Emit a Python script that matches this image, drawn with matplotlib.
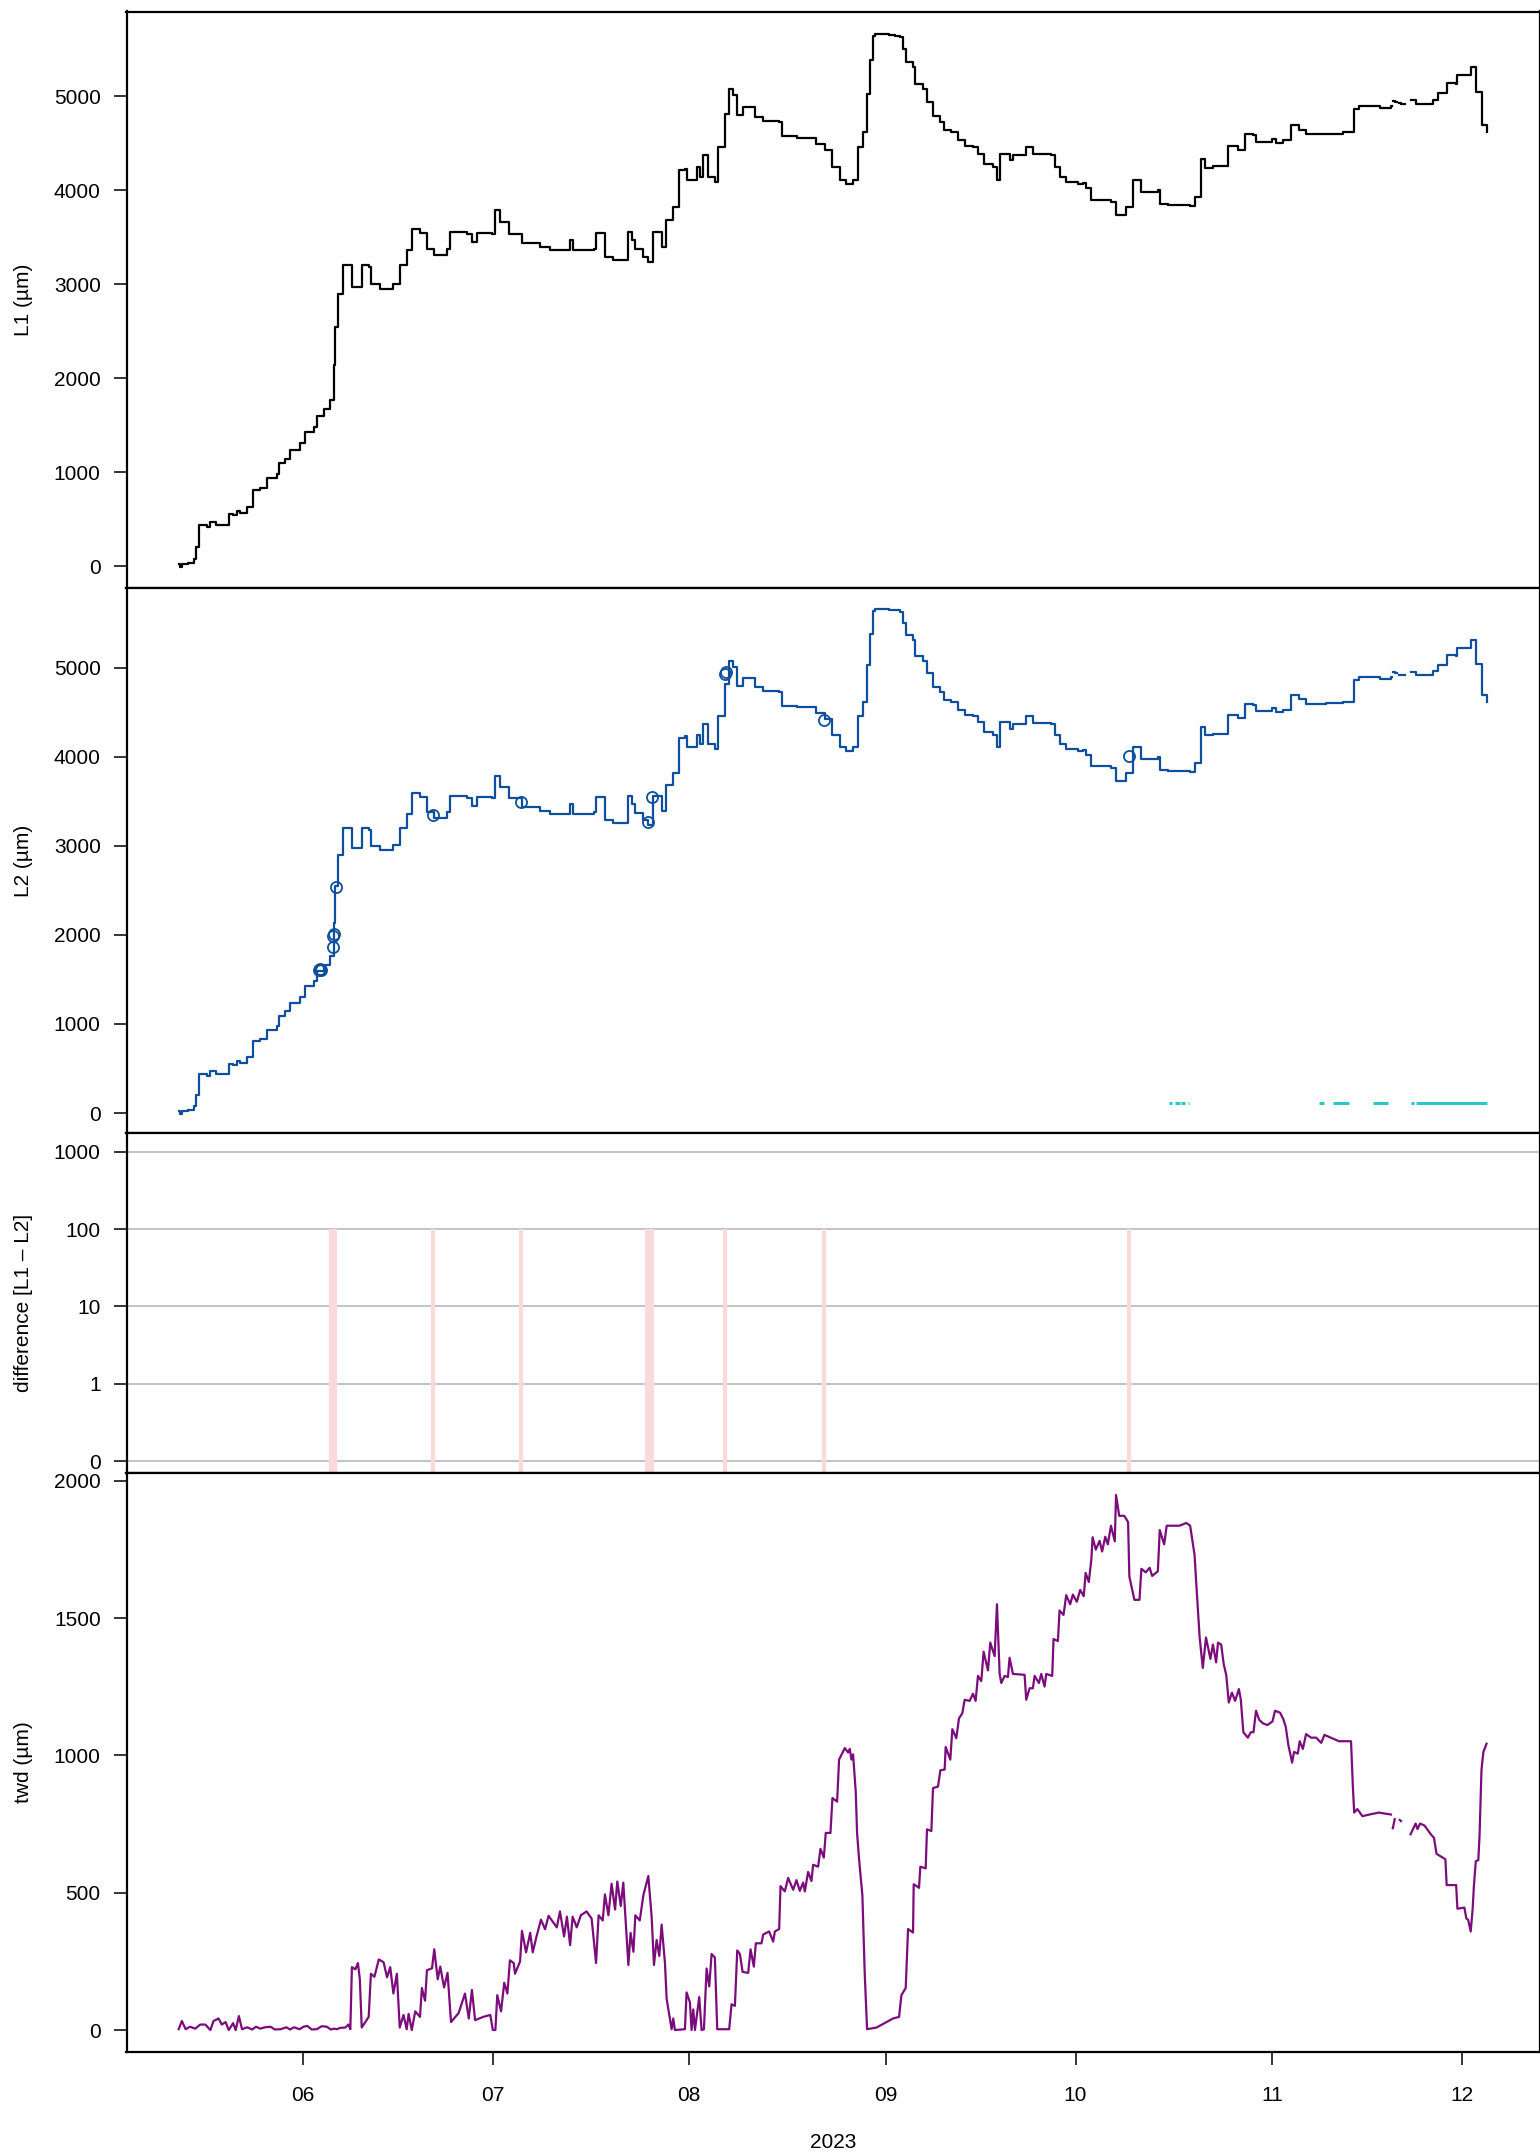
import numpy as np
import matplotlib.pyplot as plt

plt.rcParams['font.family'] = ['Liberation Sans', 'DejaVu Sans']

nan = np.nan

# (day of year 2023, 0 = 1 Jan ; value in µm)
l1_pts = [
    (131.4, 21), (131.6, -14), (132.0, 20), (132.8, 35), (133.8, 74), (134.2, 205), (134.6, 436),
    (135.9, 418), (136.4, 468), (137.3, 440), (138.8, 436), (139.3, 553), (140.0, 540), (140.6, 589),
    (141.1, 563), (142.2, 631), (143.2, 808), (144.3, 829), (145.4, 936), (146.9, 979), (147.3, 1092),
    (148.2, 1145), (149.0, 1234), (150.6, 1305), (151.4, 1429), (152.7, 1482), (153.2, 1596),
    (154.3, 1667), (155.3, 1766), (155.6, 1766), (155.9, 2138), (156.1, 2546), (156.6, 2901),
    (157.3, 3202), (158.5, 3202), (158.8, 2972), (159.8, 2972), (160.3, 3202), (161.4, 3184),
    (161.8, 3000), (163.2, 2954), (165.3, 3007), (166.3, 3202), (167.4, 3362), (168.2, 3592),
    (169.5, 3546), (170.6, 3380), (171.7, 3309), (173.7, 3380), (174.3, 3557), (176.9, 3540),
    (177.7, 3450), (178.5, 3546), (180.8, 3540), (181.4, 3787), (182.2, 3663), (183.6, 3540),
    (185.6, 3440), (188.5, 3397), (190.0, 3362), (193.2, 3468), (193.7, 3362), (196.9, 3380),
    (197.3, 3546), (198.7, 3291), (200.0, 3255), (201.6, 3255), (202.4, 3557), (203.0, 3468),
    (203.4, 3370), (204.7, 3291), (205.5, 3238), (206.3, 3557), (207.7, 3397), (208.4, 3681),
    (209.5, 3823), (210.4, 4213), (211.3, 4230), (211.6, 4106), (213.2, 4248), (213.7, 4142),
    (214.2, 4372), (215.0, 4142), (216.1, 4088), (216.6, 4461), (217.6, 4816), (218.3, 5082),
    (218.9, 5011), (219.6, 4798), (220.5, 4886), (221.3, 4886), (222.4, 4780), (223.7, 4737),
    (225.3, 4737), (226.2, 4727), (226.6, 4574), (229.0, 4560), (230.0, 4560), (232.1, 4497),
    (233.4, 4426), (234.5, 4248), (235.3, 4248), (235.8, 4106), (236.8, 4064), (237.9, 4106),
    (238.7, 4461), (239.5, 4620), (240.0, 5029), (240.6, 5384), (241.0, 5640), (241.3, 5665),
    (242.5, 5660), (243.5, 5650), (244.5, 5645), (245.3, 5630), (245.8, 5500), (246.3, 5365),
    (247.3, 5312), (247.6, 5135), (248.4, 5135), (248.9, 5082), (249.5, 4940), (250.2, 4940),
    (250.5, 4787), (251.6, 4727), (252.3, 4638), (253.4, 4620), (254.4, 4532), (255.5, 4468),
    (256.8, 4461), (257.6, 4390), (258.6, 4284), (259.9, 4248), (260.6, 4113), (261.0, 4390),
    (262.6, 4319), (263.1, 4372), (264.9, 4372), (265.2, 4461), (266.3, 4383), (269.2, 4372),
    (269.7, 4248), (270.5, 4142), (271.5, 4088), (273.4, 4071), (274.2, 4078), (274.6, 4020),
    (275.5, 3894), (278.6, 3876), (279.4, 3734), (281.0, 3823), (282.0, 4106), (283.1, 4106),
    (283.4, 3982), (286.0, 4000), (286.3, 3851), (287.6, 3840), (291.0, 3833), (291.8, 3929),
    (292.8, 4337), (293.4, 4241), (294.7, 4255), (296.0, 4255), (297.1, 4468), (298.6, 4433),
    (299.7, 4596), (301.0, 4585), (301.5, 4514), (304.1, 4550), (304.7, 4503), (305.7, 4532),
    (307.0, 4691), (308.3, 4645), (309.4, 4596), (312.5, 4603), (315.2, 4620), (316.5, 4620),
    (317.0, 4869), (317.8, 4894), (321.0, 4880), (322.8, 4894), (323.0, nan), (323.2, 4950),
    (323.5, 4940), (323.8, nan), (324.1, 4925), (324.4, 4922), (325.0, nan), (325.9, 4957),
    (326.7, 4922), (329.4, 4965), (330.2, 5036), (331.2, 5036), (331.6, 5142), (333.1, 5135),
    (333.3, 5223), (334.6, 5223), (335.4, 5312), (336.2, 5046), (336.7, 5046), (337.2, 4691),
    (338.0, 4620),
]

twd_pts = [
    (131.4, 3), (131.9, 33), (132.5, 3), (133.2, 12), (134.0, 5), (134.8, 20), (135.6, 20),
    (136.4, 0), (136.9, 33), (137.7, 42), (138.2, 20), (138.8, 29), (139.3, 0), (140.0, 25),
    (140.4, 0), (140.9, 51), (141.4, 3), (142.2, 10), (143.0, 2), (143.6, 12), (144.3, 5),
    (145.0, 10), (145.9, 12), (146.6, 2), (147.5, 3), (148.4, 10), (149.0, 2), (149.6, 10),
    (150.5, 3), (151.1, 12), (151.7, 15), (152.4, 2), (153.2, 3), (154.0, 14), (154.8, 12),
    (155.4, 2), (155.9, 5), (156.4, 3), (156.9, 8), (157.7, 9), (158.2, 20), (158.5, 3),
    (158.75, 229), (159.3, 221), (159.7, 244), (160.0, 185), (160.3, 9), (161.4, 48),
    (161.75, 205), (162.3, 194), (163.0, 257), (163.75, 247), (164.3, 192), (164.8, 229),
    (165.3, 133), (165.85, 205), (166.3, 9), (166.9, 55), (167.4, 3), (167.7, 59), (168.2, 0),
    (168.75, 68), (169.5, 48), (169.8, 153), (170.3, 107), (170.6, 218), (171.4, 225),
    (171.75, 294), (172.3, 185), (172.7, 231), (173.3, 155), (173.85, 208), (174.4, 29),
    (175.6, 62), (176.6, 133), (177.2, 42), (177.7, 146), (178.2, 36), (179.5, 48), (180.6, 55),
    (181.0, 0), (181.4, 0), (181.7, 127), (182.3, 68), (182.8, 172), (183.3, 133), (183.7, 254),
    (184.3, 244), (184.5, 205), (185.3, 250), (185.6, 361), (186.25, 283), (186.9, 354),
    (187.3, 283), (187.9, 341), (188.6, 402), (189.25, 367), (189.8, 416), (191.1, 374),
    (191.6, 432), (192.25, 341), (192.7, 413), (193.2, 309), (193.6, 413), (194.25, 374),
    (194.9, 418), (195.8, 432), (196.6, 406), (197.3, 244), (197.7, 418), (198.35, 399),
    (198.7, 494), (199.25, 418), (199.75, 533), (200.3, 439), (200.65, 541), (201.2, 452),
    (201.6, 537), (202.0, 387), (202.4, 237), (202.75, 354), (203.2, 285), (203.5, 418),
    (204.2, 399), (204.76, 490), (205.55, 561), (206.07, 414), (206.44, 237), (206.86, 328),
    (207.28, 270), (207.65, 384), (208.18, 244), (208.44, 114), (209.23, 3), (209.49, 42),
    (209.75, 0), (211.33, 3), (211.59, 137), (212.12, 101), (212.38, 0), (212.65, 75),
    (212.91, 0), (213.59, 120), (213.96, 0), (214.33, 3), (214.75, 224), (215.17, 159),
    (215.54, 277), (216.06, 264), (216.43, 3), (218.32, 3), (218.69, 94), (219.22, 88),
    (219.59, 290), (220.01, 277), (220.43, 212), (221.32, 208), (221.69, 294), (222.21, 231),
    (222.53, 316), (223.42, 316), (223.69, 348), (224.63, 359), (225.26, 322), (225.53, 359),
    (226.21, 368), (226.42, 524), (227.10, 505), (227.63, 554), (228.42, 511), (228.94, 546),
    (229.47, 507), (229.99, 537), (230.26, 505), (230.78, 576), (231.31, 543), (231.57, 602),
    (232.36, 595), (232.73, 660), (233.26, 628), (233.57, 718), (234.31, 718), (234.62, 845),
    (235.36, 832), (235.67, 985), (236.57, 1027), (237.09, 1011), (237.36, 1024), (237.62, 985),
    (237.88, 1004), (238.30, 868), (238.51, 718), (238.83, 621), (239.35, 490), (239.72, 205),
    (240.09, 3), (241.56, 9), (242.61, 22), (244.19, 42), (245.14, 48), (245.51, 127),
    (246.19, 153), (246.56, 368), (247.35, 355), (247.45, 531), (248.29, 518), (248.50, 595),
    (249.34, 589), (249.55, 731), (250.24, 725), (250.50, 881), (251.29, 887), (251.66, 946),
    (252.34, 949), (252.50, 1031), (253.23, 985), (253.55, 1096), (254.18, 1063), (254.60, 1135),
    (255.13, 1154), (255.50, 1203), (256.28, 1199), (256.81, 1225), (257.23, 1199), (257.60, 1290),
    (258.12, 1271), (258.49, 1378), (259.18, 1310), (259.54, 1411), (260.23, 1362), (260.60, 1551),
    (261.02, 1297), (261.28, 1264), (261.80, 1290), (262.33, 1286), (262.59, 1356), (263.12, 1297),
    (264.96, 1294), (265.22, 1203), (265.75, 1245), (266.27, 1245), (266.54, 1290), (267.22, 1264),
    (267.59, 1297), (268.11, 1251), (268.38, 1297), (269.32, 1290), (269.53, 1424), (270.22, 1417),
    (270.48, 1528), (271.11, 1512), (271.53, 1584), (272.16, 1551), (272.58, 1586), (273.21, 1560),
    (273.74, 1603), (274.3, 1580), (274.6, 1665), (275.1, 1632), (275.5, 1714), (275.7, 1795),
    (276.2, 1750), (276.8, 1782), (277.2, 1743), (277.7, 1797), (278.1, 1769), (278.6, 1837),
    (279.2, 1780), (279.4, 1949), (279.9, 1873), (280.7, 1873), (281.3, 1850), (281.5, 1652),
    (282.3, 1567), (283.1, 1567), (283.4, 1680), (284.1, 1667), (284.7, 1684), (285.1, 1654),
    (286.0, 1671), (286.3, 1821), (287.0, 1769), (287.4, 1837), (289.4, 1837), (290.5, 1847),
    (291.1, 1837), (291.8, 1730), (292.0, 1652), (292.6, 1430), (293.1, 1319), (293.6, 1430),
    (294.3, 1352), (294.7, 1404), (295.2, 1339), (295.5, 1411), (296.0, 1404), (296.4, 1333),
    (296.8, 1293), (297.2, 1193), (297.7, 1229), (298.2, 1199), (298.8, 1242), (299.1, 1203),
    (299.5, 1085), (300.2, 1065), (300.7, 1085), (301.1, 1085), (301.5, 1163), (302.0, 1130),
    (302.6, 1117), (303.3, 1111), (304.1, 1124), (304.5, 1163), (305.3, 1156), (305.8, 1133),
    (306.2, 1104), (306.6, 1039), (307.2, 974), (307.5, 1013), (308.1, 1007), (308.4, 1052),
    (308.9, 1024), (309.4, 1078), (310.2, 1065), (311.0, 1065), (311.8, 1046), (312.3, 1075),
    (313.6, 1062), (314.6, 1052), (315.7, 1052), (316.5, 1052), (316.8, 883), (317.0, 792),
    (317.5, 805), (318.3, 779), (319.4, 785), (320.9, 792), (322.8, 785), (323.0, nan),
    (323.1, 735), (323.4, 768), (323.8, nan), (324.2, 765), (324.4, 761), (325.0, nan),
    (325.9, 713), (326.7, 752), (327.0, 732), (327.4, 752), (328.1, 745), (329.1, 713),
    (329.6, 700), (330.0, 642), (330.9, 629), (331.4, 622), (331.6, 528), (333.1, 528),
    (333.3, 442), (334.4, 446), (334.7, 407), (335.0, 401), (335.4, 359), (335.7, 440),
    (335.9, 524), (336.2, 615), (336.6, 619), (336.8, 713), (337.1, 948), (337.4, 1013),
    (337.9, 1043),
]

# points flagged on L2 (open circles)
circ_pts = [
    (153.6, 1605), (153.75, 1615), (153.9, 1610), (155.8, 1866), (155.8, 1986), (155.85, 2010),
    (156.2, 2542), (171.6, 3346), (185.5, 3489), (205.5, 3270), (206.2, 3549), (217.65, 4930),
    (217.75, 4958), (233.3, 4415), (281.4, 4011),
]

# difference L1 - L2 events
diff_doy = [155.5, 155.7, 155.9, 156.1, 171.6, 185.4, 205.35, 205.6, 206.15, 217.7, 233.3, 281.4]
diff_val = [100] * len(diff_doy)

# cyan segments near the bottom of the L2 panel
flag_spans = [(287.7, 288.3), (288.7, 289.5), (289.6, 290.3), (290.8, 290.9),
              (311.5, 312.3), (313.6, 316.2), (319.9, 322.3), (325.9, 326.5), (326.7, 338.0)]
flag_level = 110

month_doy = [151, 181, 212, 243, 273, 304, 334]
month_lab = ['06', '07', '08', '09', '10', '11', '12']
diff_ticks = [0, 1, 10, 100, 1000]


def to_time(doy):
    doy = np.asarray(doy, dtype=float)
    return np.datetime64('2023-01-01T00:00') + np.round(doy * 1440).astype('timedelta64[m]')


def diff_pos(v):
    v = np.asarray(v, dtype=float)
    return np.where(v > 0, np.log10(np.maximum(v, 1)) + 1, 0)


l1_doy, l1_val = np.array(l1_pts).T
twd_doy, twd_val = np.array(twd_pts).T
c_doy, c_val = np.array(circ_pts).T

W, H = 1540, 2155
fig = plt.figure(figsize=(W / 100, H / 100), dpi=100)
rows = [(11.5, 587.5), (587.5, 1133.3), (1133.3, 1473), (1473, 2052)]
left, right = 126.5, 1539.5
axes = [fig.add_axes([left / W, 1 - b / H, (right - left) / W, (b - t) / H]) for t, b in rows]
ax1, ax2, ax3, ax4 = axes

xlim = (to_time(123.16), to_time(346.26))
for ax in axes:
    ax.set_xlim(*xlim)
    for s in ax.spines.values():
        s.set_linewidth(1.6)
    ax.tick_params(axis='y', direction='out', length=9.1, width=1.1, pad=9.5, labelsize=15)
    ax.tick_params(axis='x', bottom=False, labelbottom=False)
    ax.yaxis.set_label_coords(-0.0663, 0.5)

# L1
ax1.plot(to_time(l1_doy), l1_val, color='black', lw=1.6, drawstyle='steps-post')
ax1.set_ylim(-228, 5903)
ax1.set_yticks([0, 1000, 2000, 3000, 4000, 5000])
ax1.set_ylabel('L1 (µm)', fontsize=15)

# L2
ax2.plot(to_time(l1_doy), l1_val, color='#0d4f9c', lw=1.6, drawstyle='steps-post')
for a, b in flag_spans:
    ax2.hlines(flag_level, to_time(a), to_time(b), color='#2cc6c6', lw=2.2)
ax2.plot(to_time(c_doy), c_val, 'o', mfc='none', mec='#0d4f9c', ms=8, mew=1.3)
ax2.set_ylim(-228, 5903)
ax2.set_yticks([0, 1000, 2000, 3000, 4000, 5000])
ax2.set_ylabel('L2 (µm)', fontsize=15)

# difference
ax3.set_ylim(-0.155, 4.24)
for p in diff_pos(diff_ticks):
    ax3.axhline(p, color='#bebebe', lw=1.3, zorder=1)
ax3.vlines(to_time(diff_doy), -0.5, diff_pos(diff_val), color='#f9d9d9', lw=3, zorder=2)
ax3.set_yticks(diff_pos(diff_ticks))
ax3.set_yticklabels([str(v) for v in diff_ticks])
ax3.set_ylabel('difference [L1 – L2]', fontsize=15)

# twd
ax4.plot(to_time(twd_doy), twd_val, color='#7b0c7b', lw=1.6)
ax4.set_ylim(-80, 2029)
ax4.set_yticks([0, 500, 1000, 1500, 2000])
ax4.set_ylabel('twd (µm)', fontsize=15)
ax4.set_xticks(to_time(month_doy))
ax4.set_xticklabels(month_lab)
ax4.tick_params(axis='x', bottom=True, labelbottom=True, direction='out', length=9.5,
                width=1.1, pad=15, labelsize=15)
ax4.set_xlabel('2023', fontsize=15)
ax4.xaxis.set_label_coords(0.5, -0.14)

fig.savefig('out.png', dpi=100)
